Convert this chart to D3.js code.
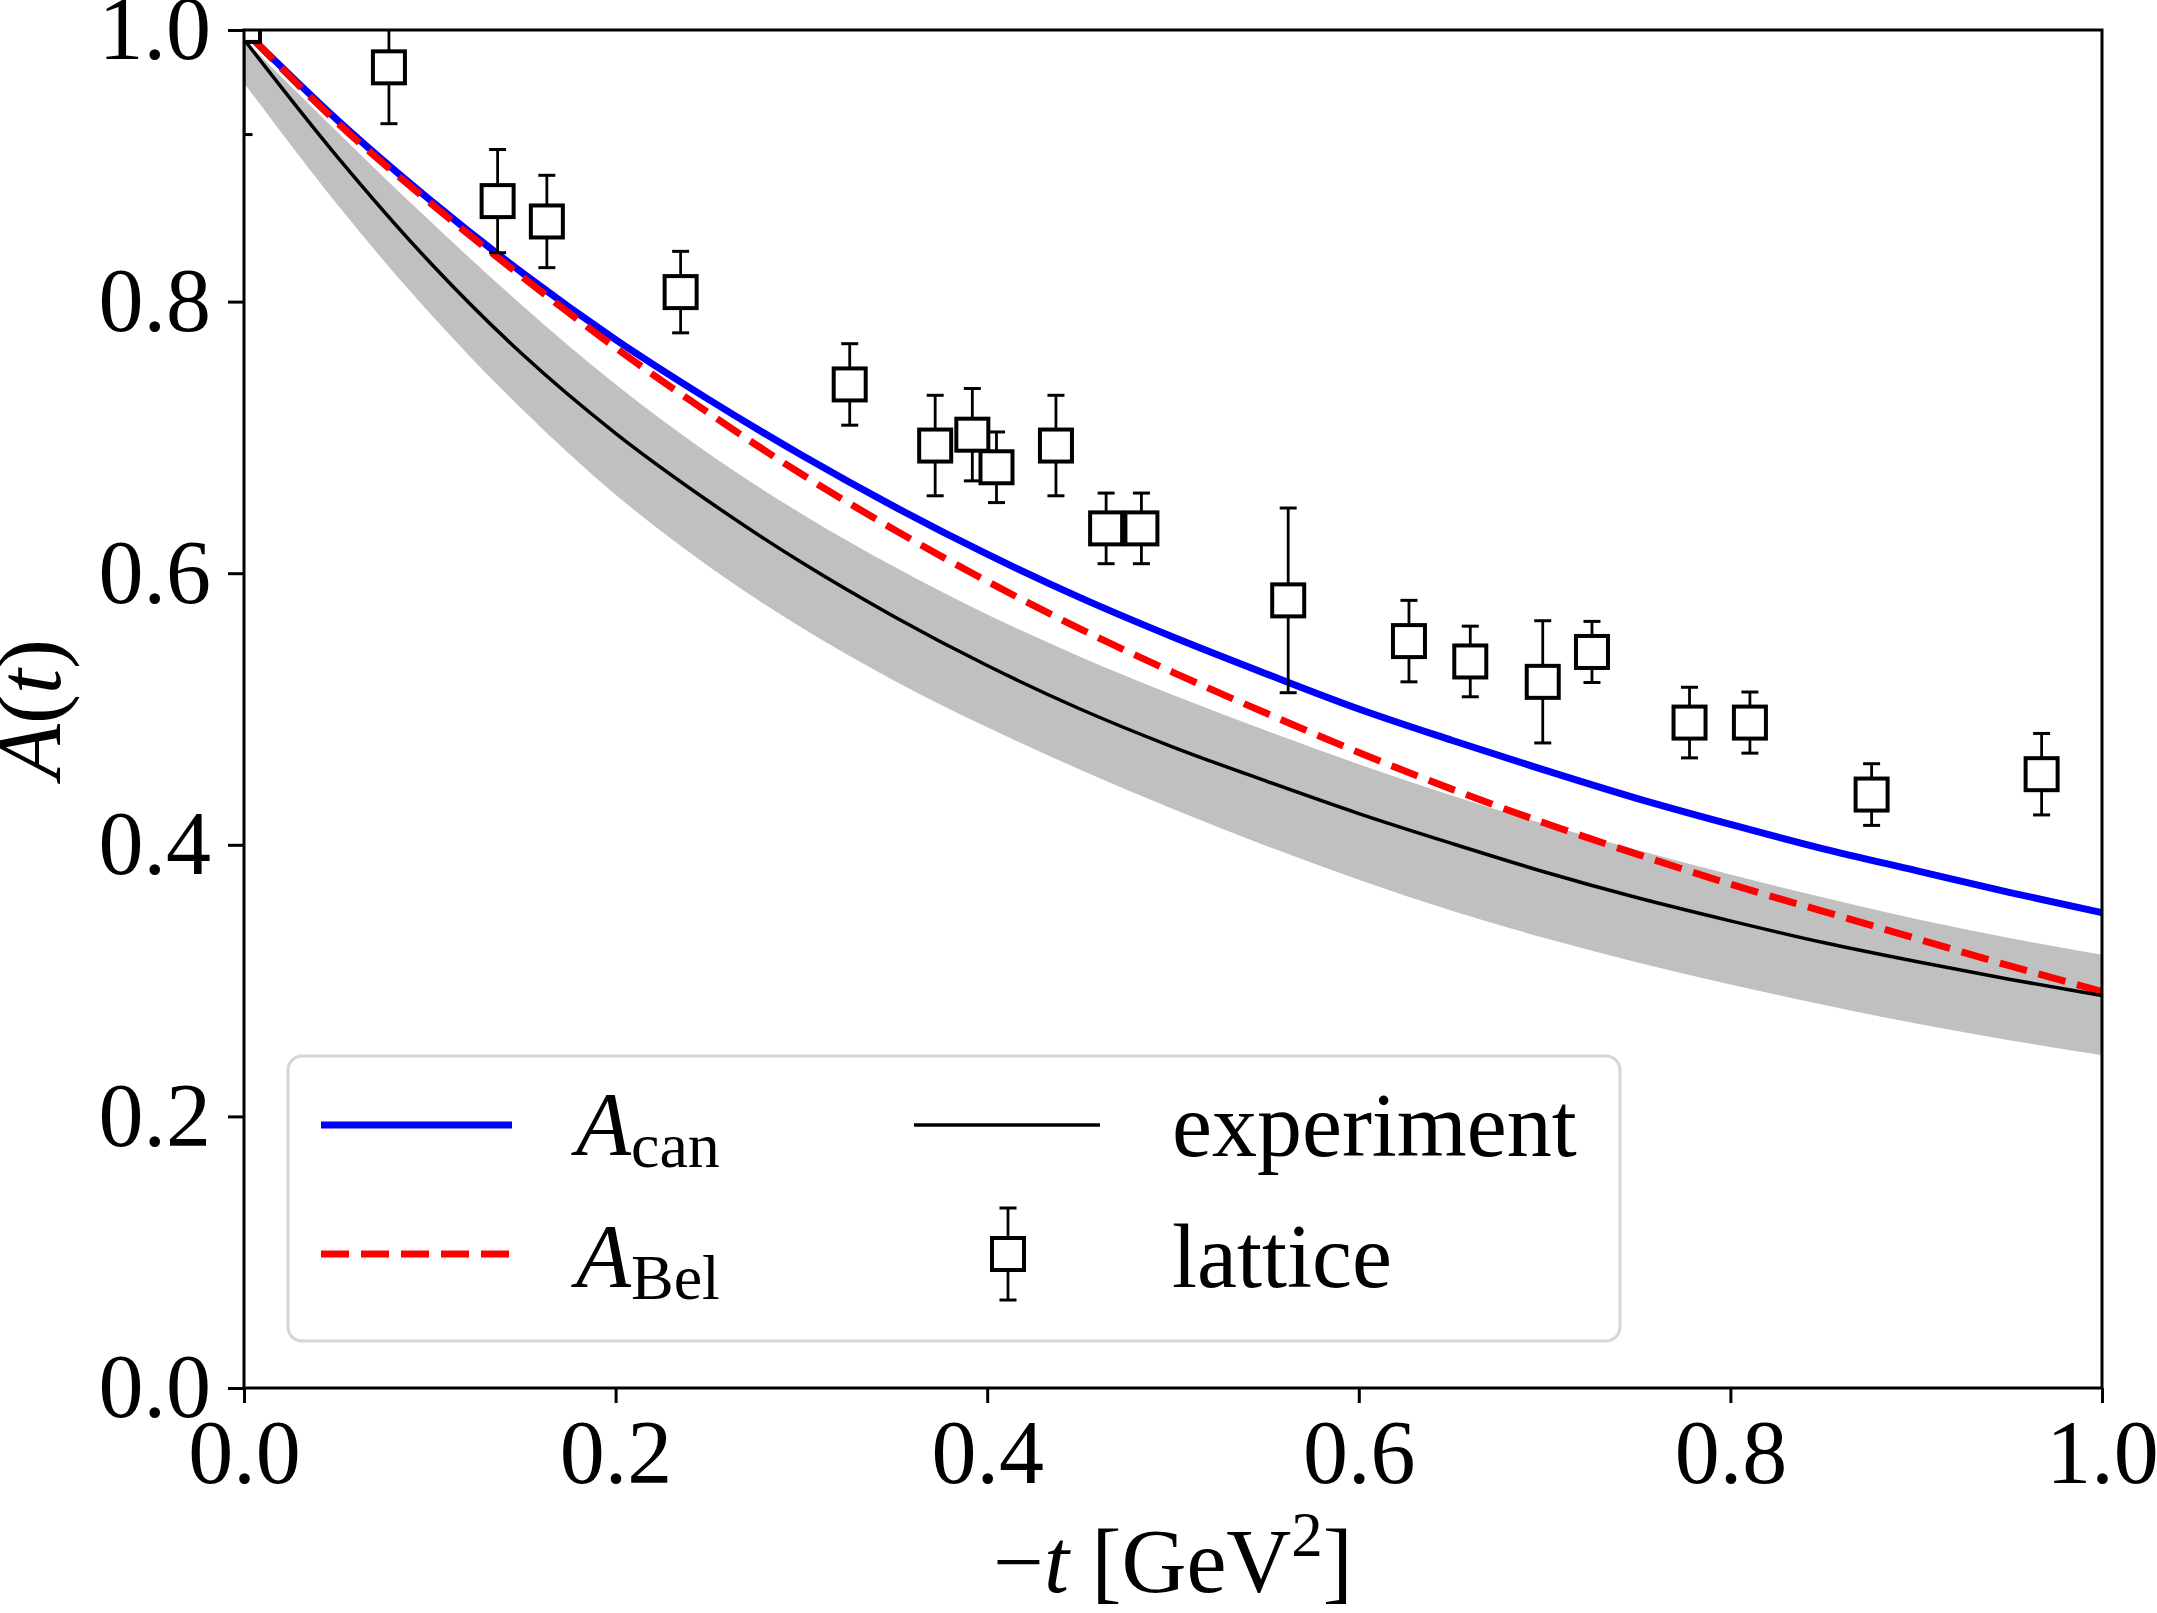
<!DOCTYPE html>
<html>
<head>
<meta charset="utf-8">
<script src="https://cdn.jsdelivr.net/npm/d3@7"></script>
<style>
  body { margin: 0; background: #fff; }
  svg { display: block; }
  text { font-family: "Liberation Serif", "Times New Roman", serif; fill: #000; }
</style>
</head>
<body>
<div id="chart"></div>
<script>
// curves
var tCurve = [0.005, 0.05, 0.10, 0.15, 0.20, 0.25, 0.30, 0.35, 0.40, 0.45, 0.50, 0.55, 0.60, 0.65, 0.70, 0.75, 0.80, 0.85, 0.90, 0.95, 1.00];
var aCan  = [0.993, 0.934, 0.875, 0.821, 0.772, 0.728, 0.687, 0.649, 0.614, 0.582, 0.553, 0.526, 0.500, 0.477, 0.455, 0.434, 0.415, 0.397, 0.381, 0.365, 0.350];
var aBel  = [0.993, 0.932, 0.873, 0.818, 0.766, 0.718, 0.673, 0.632, 0.594, 0.559, 0.527, 0.497, 0.468, 0.441, 0.416, 0.393, 0.371, 0.351, 0.331, 0.311, 0.292];

var tExp = [0.00, 0.05, 0.10, 0.15, 0.20, 0.25, 0.30, 0.35, 0.40, 0.45, 0.50, 0.55, 0.60, 0.65, 0.70, 0.75, 0.80, 0.85, 0.90, 0.95, 1.00];
var aExp     = [0.993, 0.907, 0.829, 0.761, 0.703, 0.653, 0.608, 0.568, 0.532, 0.500, 0.472, 0.447, 0.423, 0.401, 0.380, 0.361, 0.344, 0.328, 0.314, 0.301, 0.289];
var bandHigh = [0.993, 0.925, 0.859, 0.796, 0.738, 0.687, 0.643, 0.604, 0.569, 0.538, 0.510, 0.484, 0.459, 0.436, 0.415, 0.396, 0.378, 0.361, 0.345, 0.331, 0.319];
var bandLow  = [0.961, 0.870, 0.790, 0.719, 0.656, 0.604, 0.559, 0.520, 0.486, 0.455, 0.426, 0.399, 0.374, 0.351, 0.331, 0.313, 0.297, 0.282, 0.268, 0.256, 0.245];

// lattice points
var latT   = [0.000, 0.078, 0.1365, 0.163, 0.235, 0.326, 0.372, 0.392, 0.405, 0.437, 0.464, 0.483, 0.562, 0.627, 0.660, 0.699, 0.7255, 0.778, 0.8105, 0.876, 0.9675];
var latA   = [1.003, 0.9725, 0.874, 0.859, 0.807, 0.739, 0.694, 0.702, 0.678, 0.694, 0.633, 0.633, 0.580, 0.550, 0.535, 0.520, 0.542, 0.490, 0.490, 0.437, 0.452];
var latErr = [0.080, 0.0415, 0.038, 0.034, 0.030, 0.030, 0.037, 0.034, 0.026, 0.037, 0.026, 0.026, 0.068, 0.030, 0.026, 0.045, 0.0225, 0.026, 0.0225, 0.0227, 0.030];

var xTicks = [0, 0.2, 0.4, 0.6, 0.8, 1.0];
var yTicks = [0, 0.2, 0.4, 0.6, 0.8, 1.0];

var W = 2157, H = 1613;
var pLeft = 244, pRight = 2102, pTop = 30, pBottom = 1388;

var svg = d3.select("#chart").append("svg")
    .attr("width", W).attr("height", H);
svg.append("rect").attr("width", W).attr("height", H).attr("fill", "#fff");

var x = d3.scaleLinear().domain([0, 1]).range([pLeft, pRight]);
var y = d3.scaleLinear().domain([0, 1]).range([pBottom, pTop]);

svg.append("clipPath").attr("id", "plot")
  .append("rect").attr("x", pLeft).attr("y", pTop)
  .attr("width", pRight - pLeft).attr("height", pBottom - pTop);

var g = svg.append("g").attr("clip-path", "url(#plot)");

// grey band
var band = tExp.map(function(t, i){ return {t: t, lo: bandLow[i], hi: bandHigh[i]}; });
g.append("path")
  .datum(band)
  .attr("fill", "#c0c0c0")
  .attr("d", d3.area().curve(d3.curveBasis)
      .x(function(d){ return x(d.t); })
      .y0(function(d){ return y(d.lo); })
      .y1(function(d){ return y(d.hi); }));

var smooth = d3.line().curve(d3.curveMonotoneX)
    .x(function(d){ return x(d[0]); }).y(function(d){ return y(d[1]); });

g.append("path").datum(d3.zip(tCurve, aCan))
  .attr("fill", "none").attr("stroke", "#0000ff").attr("stroke-width", 7)
  .attr("d", smooth);
g.append("path").datum(d3.zip(tCurve, aBel))
  .attr("fill", "none").attr("stroke", "#ff0000").attr("stroke-width", 7)
  .attr("stroke-dasharray", "28,12")
  .attr("d", smooth);
g.append("path").datum(d3.zip(tExp, aExp))
  .attr("fill", "none").attr("stroke", "#000").attr("stroke-width", 3.5)
  .attr("stroke-linejoin", "round")
  .attr("d", smooth);

// lattice error bars + squares
function drawLattice(sel, cx, yTop, yBot) {
  sel.append("line").attr("x1", cx).attr("x2", cx).attr("y1", yTop).attr("y2", yBot)
    .attr("stroke", "#000").attr("stroke-width", 2.8);
  [yTop, yBot].forEach(function(yy){
    sel.append("line").attr("x1", cx - 8.5).attr("x2", cx + 8.5).attr("y1", yy).attr("y2", yy)
      .attr("stroke", "#000").attr("stroke-width", 3);
  });
}
var lat = latT.map(function(t, i){ return {t: t, a: latA[i], e: latErr[i]}; });
var pts = g.append("g");
lat.forEach(function(d){
  var cx = x(d.t), cy = y(d.a);
  var p = pts.append("g");
  drawLattice(p, cx, y(d.a + d.e), y(d.a - d.e));
  p.append("rect").attr("x", cx - 16).attr("y", cy - 16).attr("width", 32).attr("height", 32)
    .attr("fill", "#fff").attr("stroke", "#000").attr("stroke-width", 4);
});

// axes
var xAxis = svg.append("g").attr("transform", "translate(0," + pBottom + ")")
  .call(d3.axisBottom(x).tickValues(xTicks).tickFormat(d3.format(".1f")).tickSize(15).tickPadding(16));
var yAxis = svg.append("g").attr("transform", "translate(" + pLeft + ",0)")
  .call(d3.axisLeft(y).tickValues(yTicks).tickFormat(d3.format(".1f")).tickSize(16).tickPadding(17));
[xAxis, yAxis].forEach(function(a){
  a.select(".domain").remove();
  a.selectAll(".tick line").attr("stroke", "#000").attr("stroke-width", 3);
  a.selectAll(".tick text").attr("font-size", 90).attr("fill", "#000")
    .style("font-family", "'Liberation Serif', 'Times New Roman', serif");
});

svg.append("rect").attr("x", pLeft).attr("y", pTop)
  .attr("width", pRight - pLeft).attr("height", pBottom - pTop)
  .attr("fill", "none").attr("stroke", "#000").attr("stroke-width", 3);

// axis titles
var xl = svg.append("text").attr("x", (pLeft + pRight) / 2).attr("y", 1592)
  .attr("text-anchor", "middle").attr("font-size", 90);
xl.append("tspan").text("\u2212");
xl.append("tspan").attr("font-style", "italic").text("t");
xl.append("tspan").text(" [GeV");
xl.append("tspan").attr("font-size", 63).attr("dy", -36).text("2");
xl.append("tspan").attr("dy", 36).text("]");

var yl = svg.append("text").attr("transform", "translate(60," + ((pTop + pBottom) / 2) + ") rotate(-90)")
  .attr("text-anchor", "middle").attr("font-size", 90);
yl.append("tspan").attr("font-style", "italic").text("A");
yl.append("tspan").text("(");
yl.append("tspan").attr("font-style", "italic").text("t");
yl.append("tspan").text(")");

// legend
var leg = svg.append("g");
leg.append("rect").attr("x", 288).attr("y", 1056).attr("width", 1332).attr("height", 285)
  .attr("rx", 14).attr("fill", "#fff").attr("fill-opacity", 0.8)
  .attr("stroke", "#d6d6d6").attr("stroke-width", 3);

var row1 = 1125, row2 = 1254;
leg.append("line").attr("x1", 321).attr("x2", 512).attr("y1", row1).attr("y2", row1)
  .attr("stroke", "#0000ff").attr("stroke-width", 7);
leg.append("line").attr("x1", 321).attr("x2", 512).attr("y1", row2).attr("y2", row2)
  .attr("stroke", "#ff0000").attr("stroke-width", 7).attr("stroke-dasharray", "28,12");
leg.append("line").attr("x1", 914).attr("x2", 1100).attr("y1", row1).attr("y2", row1)
  .attr("stroke", "#000").attr("stroke-width", 3.5);
drawLattice(leg, 1008, row2 - 46, row2 + 46);
leg.append("rect").attr("x", 1008 - 16).attr("y", row2 - 16).attr("width", 32).attr("height", 32)
  .attr("fill", "#fff").attr("stroke", "#000").attr("stroke-width", 4);

function subLabel(xx, yy, main, sub) {
  var t = leg.append("text").attr("x", xx).attr("y", yy).attr("font-size", 90);
  t.append("tspan").attr("font-style", "italic").text(main);
  t.append("tspan").attr("font-size", 64).attr("dy", 12).text(sub);
}
subLabel(576, 1155, "A", "can");
subLabel(576, 1287, "A", "Bel");
leg.append("text").attr("x", 1172).attr("y", 1156).attr("font-size", 90).text("experiment");
leg.append("text").attr("x", 1172).attr("y", 1287).attr("font-size", 90).text("lattice");
</script>
</body>
</html>
